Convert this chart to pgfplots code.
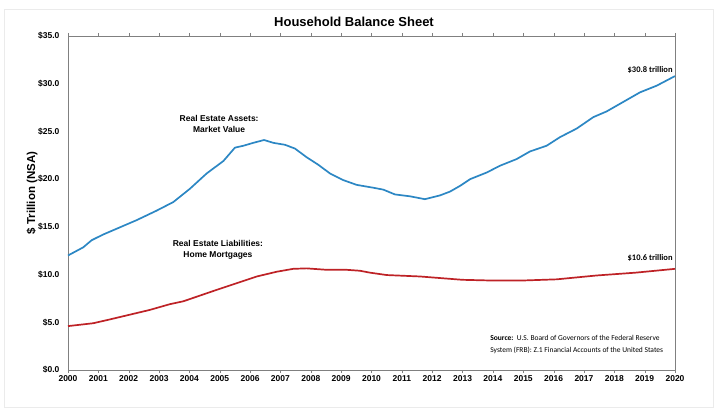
\documentclass[border=0pt]{standalone}
\usepackage{pgfplots}
\pgfplotsset{compat=1.18}
\usepackage{fontspec}
\setmainfont{Liberation Sans}
\newfontfamily\calfont{Carlito}
\definecolor{assetblue}{RGB}{44,135,196}
\definecolor{liabred}{RGB}{190,34,38}
\definecolor{axgray}{RGB}{128,128,128}
\begin{document}
\begin{tikzpicture}[x=1pt,y=1pt]
\fill[white] (0,0) rectangle (720,415);
\draw[black!8,line width=1pt] (4,8) rectangle (713,405);
\node[font=\fontsize{13}{15}\selectfont\bfseries] at (354,393) {Household Balance Sheet};
\begin{axis}[
  at={(68pt,45pt)}, anchor=south west,
  scale only axis, width=607pt, height=334pt,
  xmin=2000, xmax=2020, ymin=0, ymax=35,
  xtick={2000,2001,...,2020},
  xticklabels={2000,2001,2002,2003,2004,2005,2006,2007,2008,2009,2010,2011,2012,2013,2014,2015,2016,2017,2018,2019,2020},
  ytick={0,5,10,15,20,25,30,35},
  yticklabels={\$0.0,\$5.0,\$10.0,\$15.0,\$20.0,\$25.0,\$30.0,\$35.0},
  tick label style={font=\fontsize{8.5}{10}\selectfont\bfseries},
  tick align=outside,
  major tick length=3pt,
  x tick style={axgray},
  y tick style={draw=none},
  axis line style={axgray, line width=0.6pt},
  xticklabel style={yshift=1pt},
  yticklabel style={xshift=-2pt},
  clip=false,
]
\addplot[assetblue, line width=1.7pt, line join=round] coordinates {
(2000.00,12.0) (2000.50,12.85) (2000.78,13.6) (2001.16,14.2) (2001.71,14.95)
(2002.26,15.7) (2002.92,16.7) (2003.47,17.6) (2004.02,19.0) (2004.57,20.6)
(2005.12,21.9) (2005.50,23.3) (2005.78,23.5) (2006.10,23.8) (2006.46,24.1)
(2006.77,23.8) (2007.15,23.6) (2007.48,23.2) (2007.86,22.3) (2008.25,21.5)
(2008.63,20.6) (2009.07,19.9) (2009.51,19.4) (2010.06,19.1) (2010.39,18.9)
(2010.77,18.4) (2011.27,18.2) (2011.76,17.9) (2012.26,18.3) (2012.59,18.7)
(2012.92,19.3) (2013.25,20.0) (2013.80,20.7) (2014.23,21.4) (2014.78,22.1)
(2015.22,22.9) (2015.77,23.5) (2016.21,24.4) (2016.76,25.3) (2017.31,26.5)
(2017.75,27.1) (2018.41,28.3) (2018.85,29.1) (2019.40,29.8) (2020.00,30.8)
};
\addplot[liabred, line width=1.7pt, line join=round] coordinates {
(2000.00,4.6) (2000.83,4.9) (2001.38,5.3) (2002.04,5.8) (2002.70,6.3)
(2003.36,6.9) (2003.80,7.2) (2004.35,7.8) (2004.90,8.4) (2005.56,9.1)
(2006.22,9.8) (2006.88,10.3) (2007.42,10.6) (2007.86,10.65) (2008.52,10.5)
(2009.18,10.5) (2009.62,10.4) (2009.95,10.2) (2010.50,9.95) (2011.60,9.8)
(2013.00,9.45) (2013.90,9.38) (2015.00,9.38) (2016.10,9.5) (2017.40,9.9)
(2018.70,10.2) (2020.00,10.6)
};
\node[font=\fontsize{8.5}{10.5}\selectfont\bfseries, align=center] at (axis cs:2004.98,25.8) {Real Estate Assets:\\Market Value};
\node[font=\fontsize{8.5}{10.5}\selectfont\bfseries, align=center] at (axis cs:2004.94,12.6) {Real Estate Liabilities:\\Home Mortgages};
\node[font=\calfont\fontsize{8.5}{10}\selectfont\bfseries] at (axis cs:2019.18,31.4) {\$30.8 trillion};
\node[font=\calfont\fontsize{8.5}{10}\selectfont\bfseries] at (axis cs:2019.18,11.7) {\$10.6 trillion};
\node[font=\calfont\fontsize{7.5}{12}\selectfont, align=left, anchor=north west] at (axis cs:2013.8,4.0) {\textbf{Source:}\ \ U.S. Board of Governors of the Federal Reserve\\System (FRB): Z.1 Financial Accounts of the United States};
\end{axis}
\node[font=\fontsize{11.5}{13}\selectfont\bfseries, rotate=90] at (32,222) {\$ Trillion (NSA)};
\end{tikzpicture}
\end{document}
